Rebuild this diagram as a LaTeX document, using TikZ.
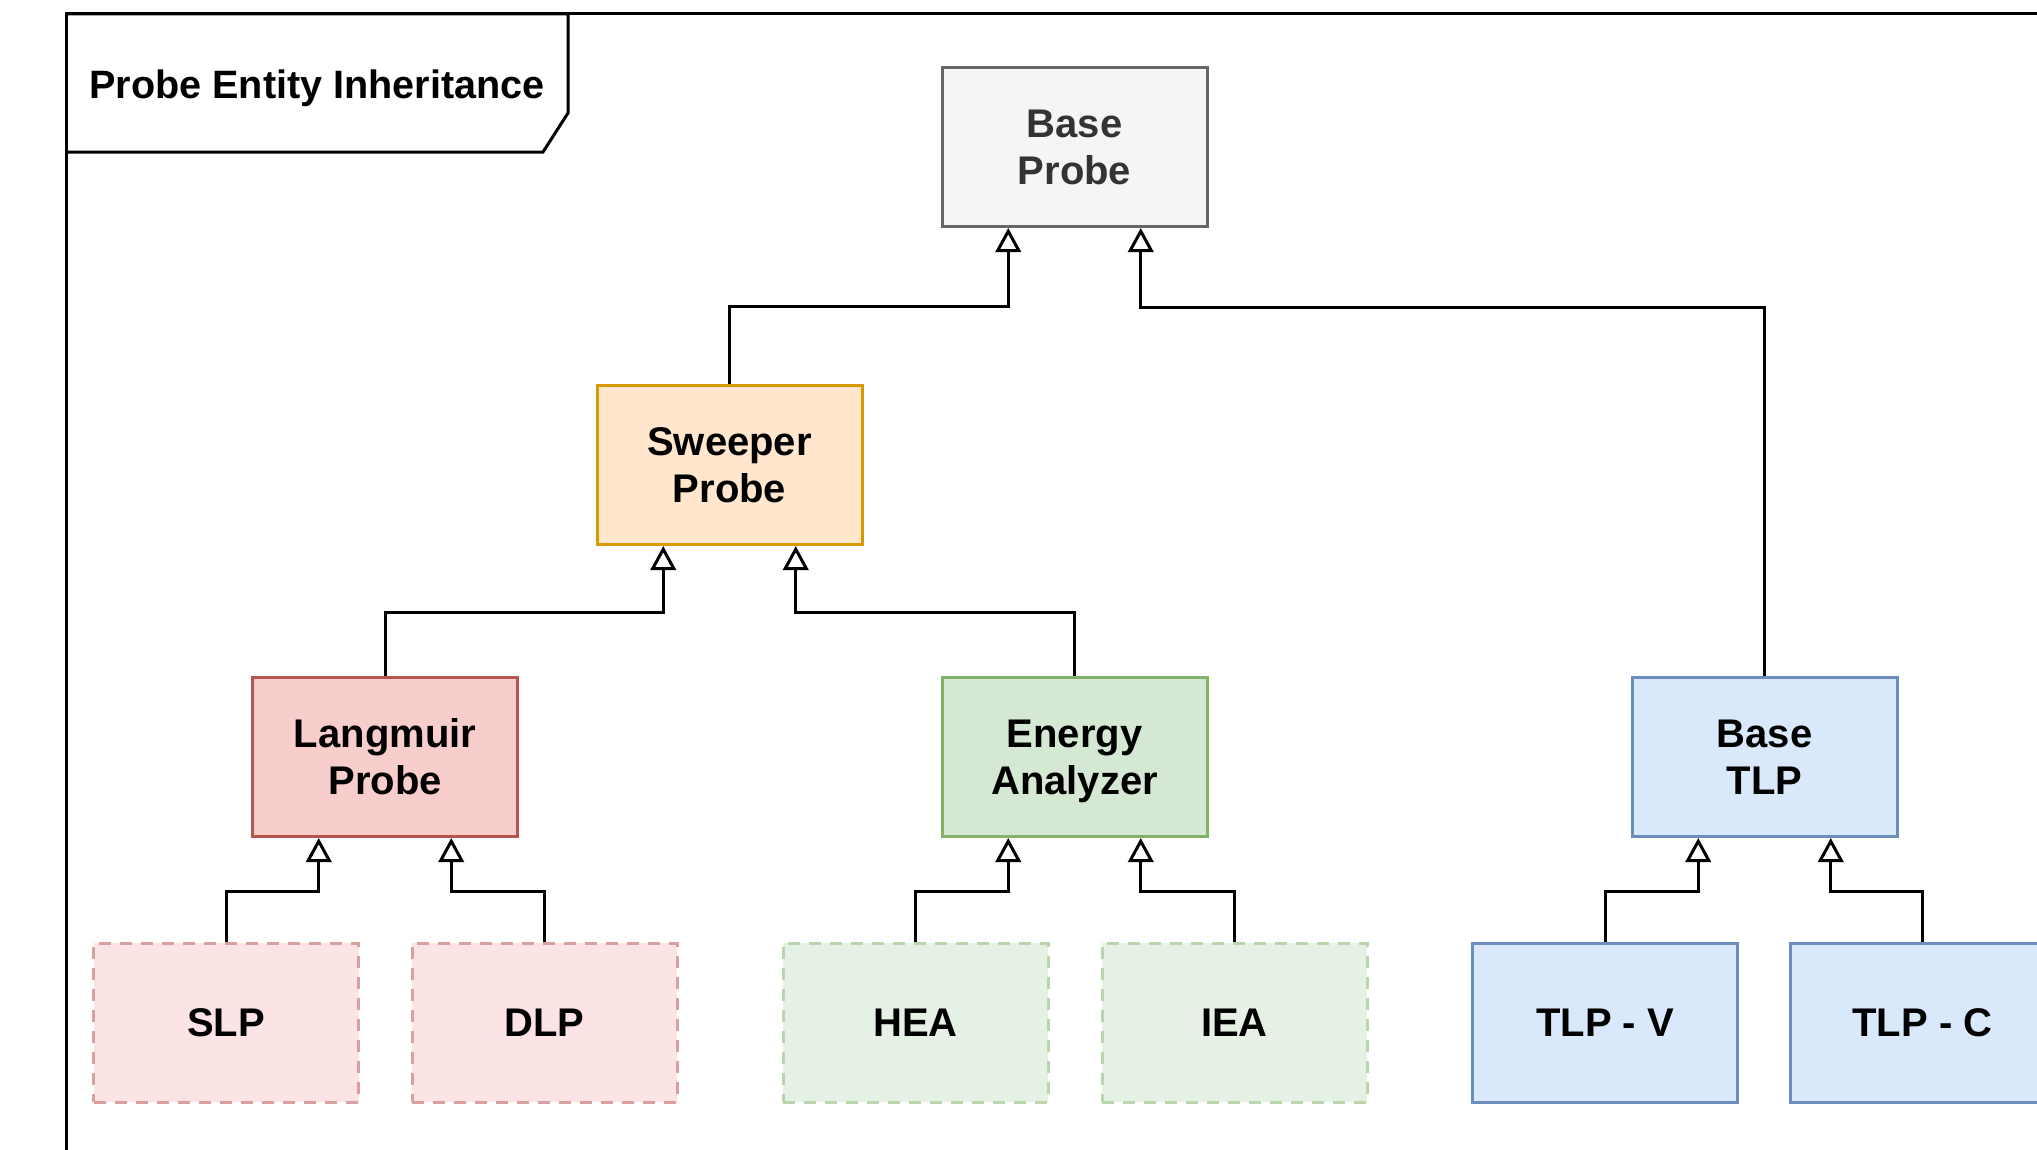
\documentclass[tikz,border=0pt]{standalone}
\usepackage{fontspec}
\setmainfont{Liberation Sans}
\usetikzlibrary{arrows.meta}
\newcommand\pxu{0.75pt}
\definecolor{bpfill}{HTML}{F5F5F5}\definecolor{bpdraw}{HTML}{666666}\definecolor{bptext}{HTML}{333333}
\definecolor{orfill}{HTML}{FFE6CC}\definecolor{ordraw}{HTML}{D79B00}
\definecolor{rdfill}{HTML}{F8CECC}\definecolor{rddraw}{HTML}{B85450}
\definecolor{grfill}{HTML}{D5E8D4}\definecolor{grdraw}{HTML}{82B366}
\definecolor{blfill}{HTML}{DAE8FC}\definecolor{bldraw}{HTML}{6C8EBF}
\tikzset{
  cls/.style={draw, rectangle, line width=2.25pt, minimum width=265*\pxu, minimum height=159*\pxu,
    inner sep=0pt, align=center, font=\fontsize{30pt}{35.25pt}\selectfont\bfseries},
  graybox/.style={cls, fill=bpfill, draw=bpdraw, text=bptext},
  orangebox/.style={cls, fill=orfill, draw=ordraw},
  redbox/.style={cls, fill=rdfill, draw=rddraw},
  greenbox/.style={cls, fill=grfill, draw=grdraw},
  bluebox/.style={cls, fill=blfill, draw=bldraw},
  redsub/.style={cls, fill=rdfill!55!white, draw=rddraw!55!white, dash pattern=on 9pt off 6.75pt},
  greensub/.style={cls, fill=grfill!60!white, draw=grdraw!55!white, dash pattern=on 9pt off 6.75pt},
  inh/.style={line width=2.25pt, -{Triangle[length=18pt,width=19pt,fill=white]}},
  frameline/.style={line width=2.25pt}
}
\begin{document}
\begin{tikzpicture}[x=0.75pt,y=-0.75pt]
\useasboundingbox (0,0) rectangle (2037,1149);
% frame
\draw[frameline] (66,1200) -- (66,14) -- (2100,14);
\draw[frameline] (66,14) -- (568,14) -- (568,113) -- (543,152) -- (66,152);
\node[font=\fontsize{29.7pt}{35pt}\selectfont\bfseries, inner sep=0pt] (title) at (317,88) {Probe Entity Inheritance};
% classes
\node[graybox] (base) at (1074.5,147) {Base\\Probe};
\node[orangebox] (sweep) at (729.5,465) {Sweeper\\Probe};
\node[redbox] (lang) at (385,757) {Langmuir\\Probe};
\node[greenbox] (ea) at (1074.5,757) {Energy\\\raisebox{0pt}[\height][0pt]{Analyzer}};
\node[bluebox] (btlp) at (1764.5,757) {Base\\TLP};
\node[redsub] (slp) at (226,1022.5) {SLP};
\node[redsub] (dlp) at (544.5,1022.5) {DLP};
\node[greensub] (hea) at (915.5,1022.5) {HEA};
\node[greensub] (iea) at (1234.5,1022.5) {IEA};
\node[bluebox] (tlpv) at (1605,1022.5) {TLP - V};
\node[bluebox] (tlpc) at (1922.5,1022.5) {TLP - C};
% connectors
\draw[inh] (sweep.north) -- ++(0,-77.5) -| ([xshift=-66.25*\pxu]base.south);
\draw[inh] (btlp.north) -- ++(0,-369) -| ([xshift=66.25*\pxu]base.south);
\draw[inh] (lang.north) -- ++(0,-64) -| ([xshift=-66.25*\pxu]sweep.south);
\draw[inh] (ea.north) -- ++(0,-64) -| ([xshift=66.25*\pxu]sweep.south);
\draw[inh] (slp.north) -- ++(0,-50.5) -| ([xshift=-66.25*\pxu]lang.south);
\draw[inh] (dlp.north) -- ++(0,-50.5) -| ([xshift=66.25*\pxu]lang.south);
\draw[inh] (hea.north) -- ++(0,-50.5) -| ([xshift=-66.25*\pxu]ea.south);
\draw[inh] (iea.north) -- ++(0,-50.5) -| ([xshift=66.25*\pxu]ea.south);
\draw[inh] (tlpv.north) -- ++(0,-50.5) -| ([xshift=-66.25*\pxu]btlp.south);
\draw[inh] (tlpc.north) -- ++(0,-50.5) -| ([xshift=66.25*\pxu]btlp.south);
\end{tikzpicture}
\end{document}
